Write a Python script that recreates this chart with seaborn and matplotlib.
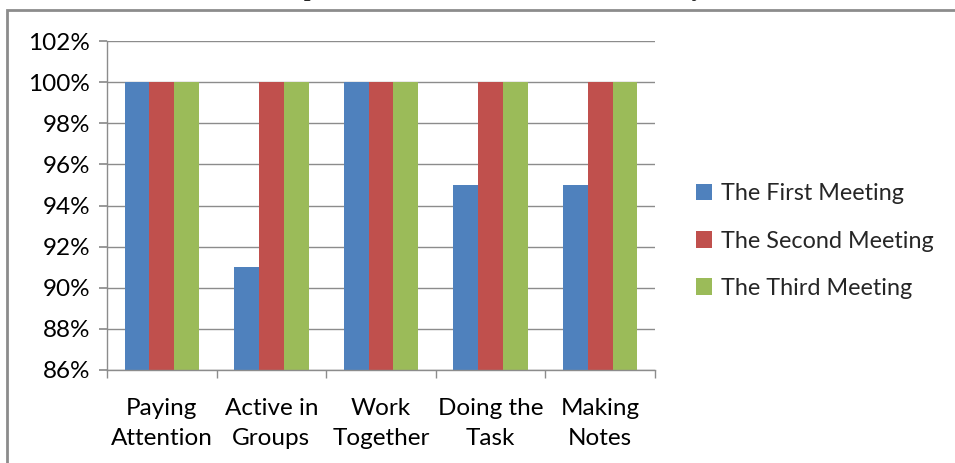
import pandas as pd
import seaborn as sns
import matplotlib.pyplot as plt
from matplotlib.patches import Rectangle
from matplotlib.ticker import FuncFormatter, FixedLocator

# chart values
activities = ['Paying\nAttention', 'Active in\nGroups', 'Work\nTogether', 'Doing the\nTask', 'Making\nNotes']
meetings = ['The First Meeting', 'The Second Meeting', 'The Third Meeting']
first = [100, 91, 100, 95, 95]
second = [100, 100, 100, 100, 100]
third = [100, 100, 100, 100, 100]
colors = ['#4F81BD', '#C0504D', '#9BBB59']

df = pd.DataFrame({
    'Activity': activities * 3,
    'Meeting': [m for m in meetings for _ in activities],
    'Percent': first + second + third,
})

sns.set_theme(style='white')
plt.rcParams['font.family'] = ['Lato', 'DejaVu Sans']

fig = plt.figure(figsize=(9.55, 4.63), dpi=100)
ax = fig.add_axes([107 / 955, 1 - 370 / 463, 548 / 955, 329 / 463])

sns.barplot(data=df, x='Activity', y='Percent', hue='Meeting', palette=colors,
            width=0.68, gap=0, saturation=1, linewidth=0, ax=ax, legend=True)

ax.set_ylim(86, 102)
ax.set_yticks(range(86, 103, 2))
ax.yaxis.set_major_formatter(FuncFormatter(lambda v, p: f'{int(v)}%'))
ax.grid(axis='y', color='#8c8c8c', linewidth=1)
ax.set_axisbelow(True)
ax.set_xlabel('')
ax.set_ylabel('')
ax.set_xlim(-0.5, 4.5)

for s in ['top', 'right']:
    ax.spines[s].set_visible(False)
for s in ['left', 'bottom']:
    ax.spines[s].set_color('#8c8c8c')
    ax.spines[s].set_linewidth(1)

ax.tick_params(axis='y', which='major', left=True, length=6, color='#8c8c8c',
               labelsize=17.5, pad=6, labelcolor='black')
ax.tick_params(axis='x', which='major', length=0, labelsize=17.5, pad=20, labelcolor='black')
ax.xaxis.set_minor_locator(FixedLocator([i - 0.5 for i in range(6)]))
ax.tick_params(axis='x', which='minor', bottom=True, length=6, color='#8c8c8c')
for t in ax.get_xticklabels():
    t.set_linespacing(1.55)

leg = ax.legend(loc='center left', bbox_to_anchor=(1.036, 0.392), frameon=False,
                fontsize=16.8, labelspacing=1.12, handlelength=0.7, handleheight=0.7,
                handletextpad=0.4)

# outer chart border and clipped title
fig.patches.append(Rectangle((7 / 955, -0.2), 1.2, (1 - 10 / 463) + 0.2,
                             transform=fig.transFigure, fill=False,
                             edgecolor='#8c8c8c', linewidth=2))
fig.text(0.5, 1 + 4 / 463, "The Comparison of the Students' Activities in Cycle I",
         ha='center', va='baseline', fontsize=17, fontweight='bold',
         family=['Liberation Serif'])

fig.savefig('out.png', dpi=100)
